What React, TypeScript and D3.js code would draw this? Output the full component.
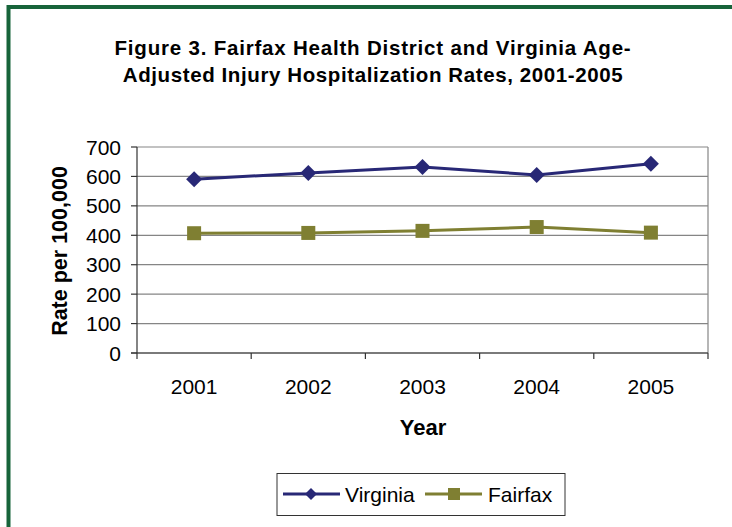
import React from "react";
import * as d3 from "d3";

const years = ["2001", "2002", "2003", "2004", "2005"];
const virginia = [590, 612, 632, 605, 643];
const fairfax = [407, 408, 415, 428, 409];
const yTicks = [0, 100, 200, 300, 400, 500, 600, 700];

const W = 732;
const H = 527;
const plot = { left: 137, right: 708, top: 147, bottom: 353 };
const font = "Arial, 'Liberation Sans', sans-serif";
const navy = "#282876";
const olive = "#7f7f32";

const App = () => {
  const x = d3.scaleBand().domain(years).range([plot.left, plot.right]);
  const y = d3.scaleLinear().domain([0, 700]).range([plot.bottom, plot.top]);
  const cx = (yr: string) => (x(yr) as number) + x.bandwidth() / 2;

  const line = d3
    .line<number>()
    .x((_, i) => cx(years[i]))
    .y((d) => y(d));

  const diamond = (px: number, py: number, r: number) =>
    `M${px},${py - r}L${px + r},${py}L${px},${py + r}L${px - r},${py}Z`;

  return (
    <svg width={W} height={H} style={{ position: "absolute", left: 0, top: 0 }}>
      <rect x={0} y={0} width={W} height={H} fill="#fff" />
      {/* green frame */}
      <rect x={8.5} y={7} width={W + 20} height={H + 20} fill="none" stroke="#17643a" strokeWidth={4} />

      {/* title */}
      <text x={373} y={55} textAnchor="middle" fontFamily={font} fontWeight="bold" fontSize={20.5} letterSpacing={0.8} fill="#000">
        Figure 3. Fairfax Health District and Virginia Age-
      </text>
      <text x={373} y={82} textAnchor="middle" fontFamily={font} fontWeight="bold" fontSize={20.5} letterSpacing={0.6} fill="#000">
        Adjusted Injury Hospitalization Rates, 2001-2005
      </text>

      {/* gridlines */}
      {yTicks.map((t) => (
        <line key={t} x1={plot.left} x2={plot.right} y1={y(t)} y2={y(t)} stroke="#858585" strokeWidth={1.2} />
      ))}
      <line x1={plot.right} x2={plot.right} y1={plot.top} y2={plot.bottom} stroke="#858585" strokeWidth={1.2} />

      {/* y axis */}
      <line x1={plot.left} x2={plot.left} y1={plot.top} y2={plot.bottom} stroke="#333" strokeWidth={1.2} />
      {yTicks.map((t) => (
        <g key={t}>
          <line x1={plot.left - 6} x2={plot.left} y1={y(t)} y2={y(t)} stroke="#333" strokeWidth={1.2} />
          <text x={121} y={y(t) + 7.5} textAnchor="end" fontFamily={font} fontSize={21} fill="#000">
            {t}
          </text>
        </g>
      ))}

      {/* x axis */}
      <line x1={plot.left - 6} x2={plot.right} y1={plot.bottom} y2={plot.bottom} stroke="#333" strokeWidth={1.2} />
      {years.map((yr) => (
        <g key={yr}>
          <line x1={x(yr) as number} x2={x(yr) as number} y1={plot.bottom} y2={plot.bottom + 6} stroke="#333" strokeWidth={1.2} />
          <text x={cx(yr)} y={394} textAnchor="middle" fontFamily={font} fontSize={21} fill="#000">
            {yr}
          </text>
        </g>
      ))}
      <line x1={plot.right} x2={plot.right} y1={plot.bottom} y2={plot.bottom + 6} stroke="#333" strokeWidth={1.2} />

      {/* axis titles */}
      <text
        transform={`translate(67,${(plot.top + plot.bottom) / 2 + 1}) rotate(-90)`}
        textAnchor="middle"
        fontFamily={font}
        fontWeight="bold"
        fontSize={21.5}
        fill="#000"
      >
        Rate per 100,000
      </text>
      <text x={423} y={435} textAnchor="middle" fontFamily={font} fontWeight="bold" fontSize={22} fill="#000">
        Year
      </text>

      {/* series */}
      <path d={line(virginia) || ""} fill="none" stroke={navy} strokeWidth={3} />
      {virginia.map((v, i) => (
        <path key={i} d={diamond(cx(years[i]), y(v), 8)} fill={navy} />
      ))}
      <path d={line(fairfax) || ""} fill="none" stroke={olive} strokeWidth={3} />
      {fairfax.map((v, i) => (
        <rect key={i} x={cx(years[i]) - 7} y={y(v) - 7} width={14} height={14} fill={olive} />
      ))}

      {/* legend */}
      <rect x={277} y={473.5} width={288} height={42} fill="#fff" stroke="#333" strokeWidth={1} />
      <line x1={283} x2={340} y1={494} y2={494} stroke={navy} strokeWidth={3} />
      <path d={diamond(311, 494, 6)} fill={navy} />
      <text x={345} y={501.5} fontFamily={font} fontSize={21} fill="#000">
        Virginia
      </text>
      <line x1={425} x2={482} y1={494} y2={494} stroke={olive} strokeWidth={3} />
      <rect x={448} y={488} width={12} height={12} fill={olive} />
      <text x={488} y={501.5} fontFamily={font} fontSize={21} fill="#000">
        Fairfax
      </text>
    </svg>
  );
};

export default App;
